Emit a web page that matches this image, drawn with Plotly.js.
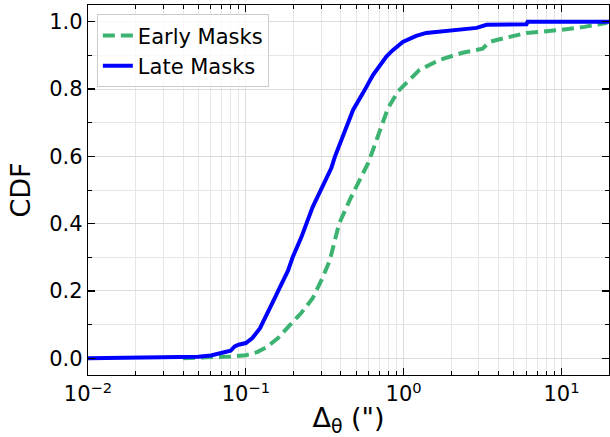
<!DOCTYPE html>
<html><head><meta charset="utf-8">
<script src="https://cdn.plot.ly/plotly-3.0.1.min.js"></script>
<style>body{margin:0;background:#fff}#c{width:610px;height:437px}</style>
</head><body><div id="c"></div>
<script>
const earlyX = [0.04, 0.062, 0.08, 0.1, 0.118, 0.136, 0.16, 0.19, 0.225, 0.265, 0.307, 0.34, 0.39, 0.455, 0.527, 0.594, 0.639, 0.687, 0.795, 0.92, 0.987, 1.09, 1.26, 1.69, 2.36, 3.16, 3.5, 3.88, 6.0, 10, 14, 19.5];
const earlyY = [0, 0.002, 0.005, 0.009, 0.018, 0.033, 0.06, 0.098, 0.135, 0.178, 0.24, 0.29, 0.40, 0.47, 0.53, 0.579, 0.619, 0.66, 0.743, 0.793, 0.807, 0.83, 0.857, 0.887, 0.908, 0.92, 0.94, 0.946, 0.967, 0.976, 0.985, 0.997];
const lateX = [0.01, 0.03, 0.05, 0.06, 0.07, 0.08, 0.085, 0.09, 0.1, 0.11, 0.123, 0.14, 0.153, 0.164, 0.185, 0.198, 0.225, 0.265, 0.3, 0.33, 0.348, 0.366, 0.394, 0.434, 0.478, 0.552, 0.639, 0.777, 0.85, 0.987, 1.2, 1.39, 2.2, 2.9, 3.35, 6.0, 6.1, 20];
const lateY = [0, 0.001, 0.004, 0.008, 0.015, 0.022, 0.035, 0.04, 0.045, 0.06, 0.089, 0.14, 0.18, 0.21, 0.26, 0.30, 0.36, 0.449, 0.50, 0.54, 0.565, 0.598, 0.639, 0.688, 0.738, 0.788, 0.842, 0.897, 0.915, 0.94, 0.958, 0.967, 0.976, 0.982, 0.991, 0.993, 1.0, 1.0];
const seriesNames = ["Early Masks", "Late Masks"];
const xTickVals = [0.01, 0.1, 1, 10];
const xTickText = ["10<sup>−2</sup>", "10<sup>−1</sup>", "10<sup>0</sup>", "10<sup>1</sup>"];
const yTickVals = [0, 0.2, 0.4, 0.6, 0.8, 1.0];
const yTickText = ["0.0", "0.2", "0.4", "0.6", "0.8", "1.0"];

const font = "DejaVu Sans, sans-serif";
const traces = [
  {x: earlyX, y: earlyY, name: seriesNames[0], mode: "lines", type: "scatter",
   line: {color: "#3cb371", width: 4, dash: "12px,6px"}},
  {x: lateX, y: lateY, name: seriesNames[1], mode: "lines", type: "scatter",
   line: {color: "#0000ff", width: 4}}
];
const axCommon = {
  showline: true, linecolor: "#000", linewidth: 1.2, mirror: "allticks",
  ticks: "inside", ticklen: 7, tickwidth: 1.2, tickcolor: "#000",
  showgrid: true, gridcolor: "#dcdcdc", gridwidth: 1, zeroline: false,
  tickfont: {family: font, size: 21, color: "#000"}
};
const layout = {
  width: 610, height: 437,
  margin: {l: 88, r: 1, t: 5, b: 62},
  paper_bgcolor: "#fff", plot_bgcolor: "#fff",
  showlegend: true,
  legend: {x: 0.017, y: 0.975, xanchor: "left", yanchor: "top",
           bgcolor: "rgba(255,255,255,0.8)", bordercolor: "#cccccc", borderwidth: 1,
           font: {family: font, size: 21, color: "#000"}},
  xaxis: Object.assign({}, axCommon, {
    type: "log", range: [-2, Math.log10(20)],
    tickvals: xTickVals, ticktext: xTickText,
    minor: {dtick: "D1", ticks: "inside", ticklen: 4, tickcolor: "#000", tickwidth: 1, showgrid: true, gridcolor: "#e6e6e6"},
    title: {text: "Δ<sub>θ</sub> (\")", font: {family: font, size: 27, color: "#000"}, standoff: 6}
  }),
  yaxis: Object.assign({}, axCommon, {
    range: [-0.05, 1.05],
    tickvals: yTickVals, ticktext: yTickText,
    minor: {dtick: 0.1, ticks: "inside", ticklen: 4, tickcolor: "#000", tickwidth: 1, showgrid: true, gridcolor: "#e6e6e6"},
    title: {text: "CDF", font: {family: font, size: 27, color: "#000"}, standoff: 10}
  })
};
Plotly.newPlot("c", traces, layout, {displayModeBar: false, staticPlot: true});
</script></body></html>
